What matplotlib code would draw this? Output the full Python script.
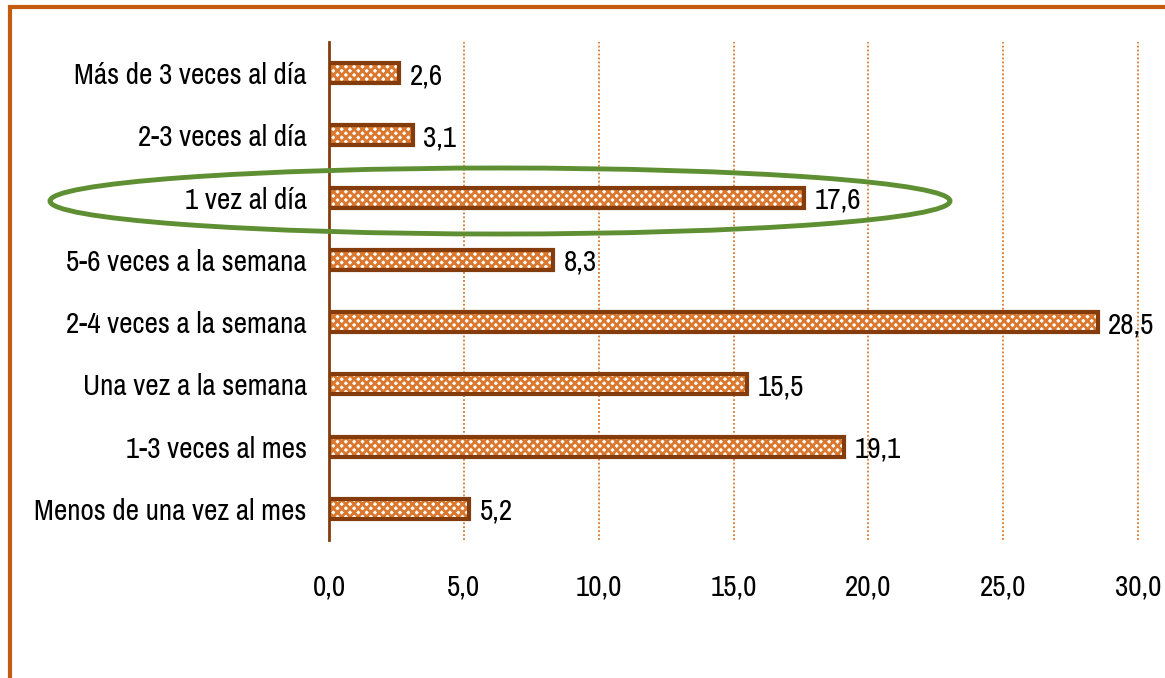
import matplotlib.pyplot as plt
from matplotlib.patches import Ellipse, Rectangle
from matplotlib import font_manager

# Data
categories = ['Más de 3 veces al día', '2-3 veces al día', '1 vez al día',
              '5-6 veces a la semana', '2-4 veces a la semana', 'Una vez a la semana',
              '1-3 veces al mes', 'Menos de una vez al mes']
values = [2.6, 3.1, 17.6, 8.3, 28.5, 15.5, 19.1, 5.2]
xticks = [0, 5, 10, 15, 20, 25, 30]

# look for a narrow font like Arial Narrow, otherwise use a smaller regular one
narrow = [f.name for f in font_manager.fontManager.ttflist
          if 'narrow' in f.name.lower() and f.weight in (400, 'normal', 'regular') and f.style == 'normal']
preferred = [n for n in ['Liberation Sans Narrow', 'Arial Narrow'] if n in narrow]
if preferred or narrow:
    plt.rcParams['font.family'] = [(preferred or narrow)[0], 'DejaVu Sans']
    fs = 21
else:
    plt.rcParams['font.family'] = ['Liberation Sans', 'DejaVu Sans']
    fs = 18

brown = '#843C0C'
orange = '#D9782E'
plt.rcParams['hatch.linewidth'] = 2.0

fig = plt.figure(figsize=(11.65, 6.78), dpi=100)
ax = fig.add_axes([329 / 1165, 1 - 540 / 678, (1138 - 329) / 1165, (540 - 42) / 678])

y = list(range(len(categories)))
ax.barh(y, values, height=0.32, color='white', edgecolor=orange, hatch='xxxx', linewidth=0)
ax.barh(y, values, height=0.32, color='none', edgecolor=brown, linewidth=3)

for yi, v in zip(y, values):
    ax.text(v + 0.4, yi, f'{v:.1f}'.replace('.', ','), va='center_baseline', ha='left', fontsize=fs)

ax.set_ylim(len(categories) - 0.5, -0.5)
ax.set_xlim(0, 30)
ax.set_yticks(y)
ax.set_yticklabels(categories, fontsize=fs)
ax.set_xticks(xticks)
ax.set_xticklabels([f'{t:.1f}'.replace('.', ',') for t in xticks], fontsize=fs)
ax.tick_params(length=0, pad=24, axis='x')
ax.tick_params(length=0, pad=16, axis='y')

for t in xticks[1:]:
    ax.axvline(t, color=orange, linestyle=(0, (1, 1.2)), linewidth=1.3, zorder=0, clip_on=False)

for s in ['top', 'right', 'bottom']:
    ax.spines[s].set_visible(False)
ax.spines['left'].set_color(brown)
ax.spines['left'].set_linewidth(2)

# highlight ellipse around "1 vez al día"
ell = Ellipse((500 / 1165, 1 - 201 / 678), 900 / 1165, 66 / 678, transform=fig.transFigure,
              fill=False, edgecolor='#5E8F32', linewidth=3.5)
fig.add_artist(ell)

# outer frame
frame = Rectangle((10 / 1165, -0.05), 1.2, 1 - 7 / 678 + 0.05, transform=fig.transFigure,
                  fill=False, edgecolor='#C55A11', linewidth=3)
fig.add_artist(frame)

fig.savefig('out.png', dpi=100)
